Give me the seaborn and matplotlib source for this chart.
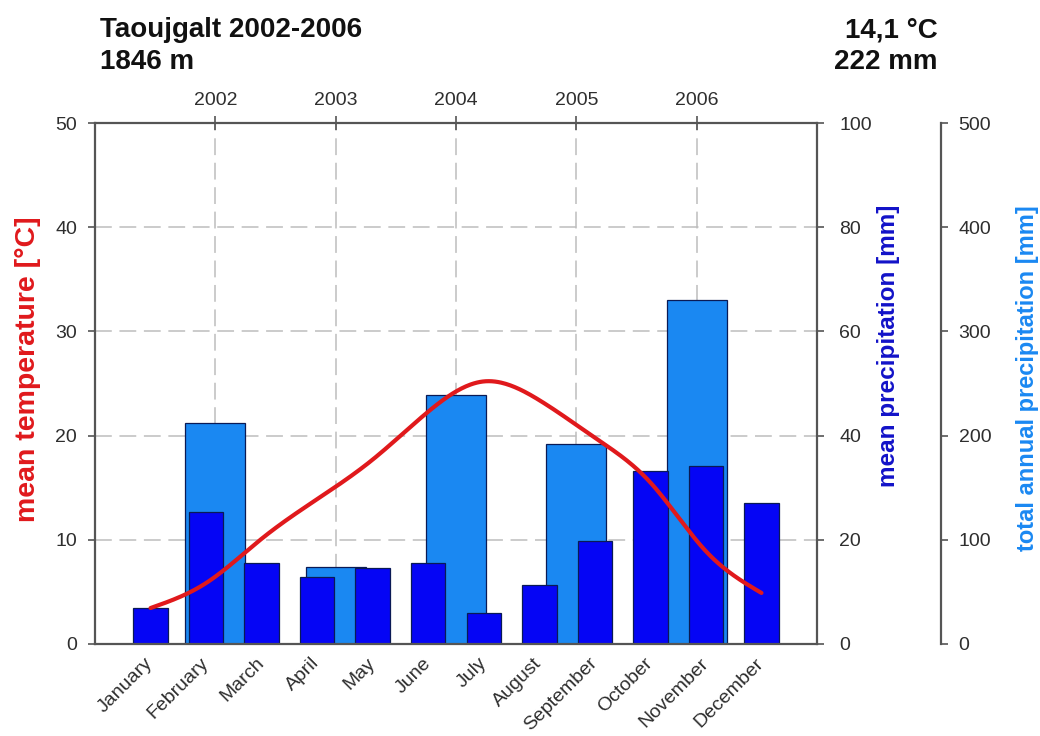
import numpy as np
import matplotlib
matplotlib.use("Agg")
import matplotlib.pyplot as plt
import seaborn as sns

# Climate data, Taoujgalt station (1846 m), 2002-2006
months = ["January", "February", "March", "April", "May", "June",
          "July", "August", "September", "October", "November", "December"]
mean_temp = [3.45, 5.85, 10.1, 13.9, 17.7, 22.3, 25.2, 23.4, 19.8, 15.5, 8.9, 4.9]
mean_precip = [7.0, 25.4, 15.6, 12.9, 14.6, 15.5, 5.9, 11.3, 19.8, 33.2, 34.1, 27.1]
years = ["2002", "2003", "2004", "2005", "2006"]
annual_precip = [212, 73.5, 239, 192, 330]

temp_ticks = [0, 10, 20, 30, 40, 50]
precip_ticks = [0, 20, 40, 60, 80, 100]
annual_ticks = [0, 100, 200, 300, 400, 500]

sns.set_style("white")
plt.rcParams["font.family"] = ["Liberation Sans", "DejaVu Sans"]

RED = "#e0191c"
DARK_BLUE = "#0505f5"
LIGHT_BLUE = "#1a88f2"
EDGE = "#0a1a55"
SPINE = "#555555"
TICK_TXT = "#2e2e2e"
TICK_SIZE = 14


def natural_cubic(x, y, xs):
    """Smooth curve through the monthly means (natural cubic spline)."""
    x = np.asarray(x, float)
    y = np.asarray(y, float)
    n = len(x)
    h = np.diff(x)
    A = np.zeros((n, n))
    b = np.zeros(n)
    A[0, 0] = A[-1, -1] = 1.0
    for i in range(1, n - 1):
        A[i, i - 1] = h[i - 1]
        A[i, i] = 2 * (h[i - 1] + h[i])
        A[i, i + 1] = h[i]
        b[i] = 3 * ((y[i + 1] - y[i]) / h[i] - (y[i] - y[i - 1]) / h[i - 1])
    c = np.linalg.solve(A, b)
    idx = np.clip(np.searchsorted(x, xs) - 1, 0, n - 2)
    t = xs - x[idx]
    bb = (y[idx + 1] - y[idx]) / h[idx] - h[idx] * (2 * c[idx] + c[idx + 1]) / 3
    d = (c[idx + 1] - c[idx]) / (3 * h[idx])
    return y[idx] + bb * t + c[idx] * t ** 2 + d * t ** 3


fig = plt.figure(figsize=(10.4, 7.36), dpi=100)
rect = [95 / 1040, 1 - 644 / 736, 722 / 1040, 521 / 736]

# --- annual totals (bottom layer, carries the grid, year axis on top, outer right axis)
ax_a = fig.add_axes(rect)
sns.barplot(x=years, y=annual_precip, order=years, color=LIGHT_BLUE, saturation=1,
            width=0.5, edgecolor=EDGE, linewidth=0.9, ax=ax_a)
ax_a.set_xlim(-1, 5)
ax_a.set_ylim(0, 500)
ax_a.set_yticks(annual_ticks)
ax_a.set_xlabel("")
ax_a.xaxis.tick_top()
ax_a.yaxis.tick_right()
ax_a.set_axisbelow(True)
ax_a.grid(True, color="#bdbdbd", linestyle=(0, (11, 5)), linewidth=1.1)
for s in ["left", "bottom"]:
    ax_a.spines[s].set_visible(False)
ax_a.spines["right"].set_position(("outward", 89))
for s in ["right", "top"]:
    ax_a.spines[s].set_color(SPINE)
    ax_a.spines[s].set_linewidth(1.6)
ax_a.tick_params(axis="x", direction="inout", length=10, width=1.2, color=SPINE,
                 labelsize=TICK_SIZE, labelcolor=TICK_TXT, pad=5)
ax_a.tick_params(axis="y", direction="out", length=5, width=1.2, color=SPINE,
                 labelsize=TICK_SIZE, labelcolor=TICK_TXT, pad=8)
ax_a.set_ylabel("total annual precipitation [mm]", color=LIGHT_BLUE,
                fontsize=17, fontweight="bold")
ax_a.yaxis.set_label_position("right")

# --- monthly precipitation (middle layer, month axis, inner right axis)
ax_m = fig.add_axes(rect, facecolor="none")
sns.barplot(x=months, y=mean_precip, order=months, color=DARK_BLUE, saturation=1,
            width=0.62, edgecolor=EDGE, linewidth=0.9, ax=ax_m)
ax_m.set_xlim(-1, 12)
ax_m.set_ylim(0, 100)
ax_m.set_yticks(precip_ticks)
ax_m.set_xlabel("")
ax_m.yaxis.tick_right()
for s in ["left", "top"]:
    ax_m.spines[s].set_visible(False)
for s in ["right", "bottom"]:
    ax_m.spines[s].set_color(SPINE)
    ax_m.spines[s].set_linewidth(1.6)
ax_m.tick_params(axis="x", direction="out", length=6, width=1.2, color=SPINE,
                 labelsize=TICK_SIZE, labelcolor=TICK_TXT, pad=6)
ax_m.tick_params(axis="y", direction="out", length=5, width=1.2, color=SPINE,
                 labelsize=TICK_SIZE, labelcolor=TICK_TXT, pad=11)
for lab in ax_m.get_xticklabels():
    lab.set_rotation(45)
    lab.set_ha("right")
    lab.set_va("center")
    lab.set_rotation_mode("anchor")
ax_m.set_ylabel("mean precipitation [mm]", color="#1212c8",
                fontsize=17.5, fontweight="bold")
ax_m.yaxis.set_label_position("right")

# --- temperature curve (top layer, left axis)
ax_t = fig.add_axes(rect, facecolor="none")
pos = np.arange(len(months))
xs = np.linspace(pos[0], pos[-1], 400)
sns.lineplot(x=xs, y=natural_cubic(pos, mean_temp, xs), color=RED,
             linewidth=3, ax=ax_t)
ax_t.set_xlim(-1, 12)
ax_t.set_ylim(0, 50)
ax_t.set_yticks(temp_ticks)
ax_t.set_xticks([])
for s in ["right", "top", "bottom"]:
    ax_t.spines[s].set_visible(False)
ax_t.spines["left"].set_color(SPINE)
ax_t.spines["left"].set_linewidth(1.6)
ax_t.tick_params(axis="y", direction="out", length=5, width=1.2, color=SPINE,
                 labelsize=TICK_SIZE, labelcolor=TICK_TXT, pad=8, left=True)
ax_t.set_ylabel("mean temperature [°C]", color=RED, fontsize=20.5, fontweight="bold")

# label placement (axes-fraction coordinates, centred)
for ax, lx, ly in [(ax_t, -0.093, 0.528), (ax_m, 1.0997, 0.572), (ax_a, 1.292, 0.511)]:
    lab = ax.yaxis.label
    lab.set_rotation_mode("default")
    lab.set_ha("center")
    lab.set_va("center")
    ax.yaxis.set_label_coords(lx, ly)

# header
for txt, x, y, ha in [("Taoujgalt 2002-2006", 100, 37, "left"),
                      ("1846 m", 100, 69, "left"),
                      ("14,1 °C", 938, 37, "right"),
                      ("222 mm", 938, 69, "right")]:
    fig.text(x / 1040, 1 - y / 736, txt, fontsize=20, fontweight="bold",
             va="baseline", ha=ha, color="#111111")

fig.savefig("out.png", dpi=100)
